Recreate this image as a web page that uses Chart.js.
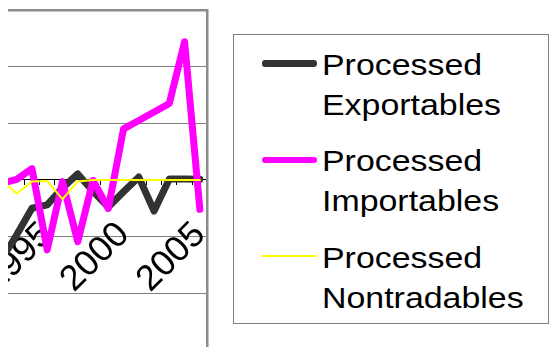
<!DOCTYPE html>
<html><head><meta charset="utf-8">
<script src="https://cdn.jsdelivr.net/npm/chart.js@4.4.1/dist/chart.umd.min.js"></script>
<style>
html,body{margin:0;padding:0;width:550px;height:347px;overflow:hidden;background:#fff;}
#c{position:absolute;left:-40px;top:0;}
#mask{position:absolute;left:0;top:0;width:8px;height:347px;background:#fff;z-index:2;}
#legend{position:absolute;left:233px;top:34px;width:314px;height:288px;border:1px solid #808080;background:#fff;z-index:3;font-family:'Liberation Sans',Arial,sans-serif;font-size:30px;color:#000;}
.entry{position:absolute;left:88px;line-height:40px;transform:scaleX(1.13);transform-origin:0 0;white-space:nowrap;}
.swatch{position:absolute;left:28px;width:55px;}
</style></head><body>
<canvas id="c" width="340" height="400"></canvas>
<div id="mask"></div>
<div id="legend"></div>
<script>
const years = ['1992','1993','1994','1995','1996','1997','1998','1999','2000','2001','2002','2003','2004','2005'];
const tickYears = ['1995','2000','2005'];
const exportables  = [-14.1, -9.7, -5.0, -4.4, -1.4, 1.05, -2.0, -4.8, -2.1, 0.5, -5.5, 0.15, 0.15, 0.1];
const importables  = [-0.6, 0.1, 2.0, -12.35, -0.3, -10.9, -0.1, -5.05, 9.0, 10.5, 12.0, 13.5, 24.4, -5.2];
const nontradables = [0, -2.4, -0.3, -0.2, -3.4, -0.3, 0, 0, 0, 0, 0, 0, 0, 0];
const seriesNames  = [['Processed','Exportables'],['Processed','Importables'],['Processed','Nontradables']];
const seriesColors = ['#333333','#FF00FF','#FFFF00'];
const seriesWidths = [7, 7, 2];
const swatchWidths = [6.5, 6, 2];
const yMin = -30, yMax = 30, yStep = 10;

Chart.defaults.font.family = "'Liberation Sans', Arial, sans-serif";

const seriesData = [exportables, importables, nontradables];
new Chart(document.getElementById('c'), {
  type: 'line',
  data: {
    labels: years,
    datasets: seriesData.map((d, i) => ({
      label: seriesNames[i].join(' '),
      data: d,
      borderColor: seriesColors[i],
      backgroundColor: seriesColors[i],
      borderWidth: seriesWidths[i],
      order: 2 - i
    }))
  },
  options: {
    responsive: false,
    animation: false,
    layout: {padding: {left: 33.8, right: 92.5, top: 10, bottom: 50.2}},
    elements: {
      point: {radius: 0},
      line: {tension: 0, borderJoinStyle: 'round', borderCapStyle: 'round', fill: false}
    },
    plugins: {legend: {display: false}, tooltip: {enabled: false}},
    scales: {
      x: {
        type: 'category',
        position: {y: 0},
        offset: true,
        grid: {display: true, drawOnChartArea: false, drawTicks: true, tickLength: 5, tickColor: '#000', offset: true},
        border: {display: true, color: '#000', width: 1},
        ticks: {
          autoSkip: false, maxRotation: 45, minRotation: 45, padding: 29, color: '#000',
          font: {size: 36},
          callback: function (v) { const l = this.getLabelForValue(v); return tickYears.includes(l) ? l : ''; }
        }
      },
      y: {
        min: yMin, max: yMax,
        ticks: {display: false, stepSize: yStep},
        grid: {
          drawTicks: false,
          color: c => (c.tick && c.tick.value === yMax) ? '#8c8c8c' : '#808080',
          lineWidth: c => (c.tick && c.tick.value === yMax) ? 2.5 : 1
        },
        border: {display: false}
      },
      y2: {
        position: 'right',
        display: true,
        grid: {display: false, drawTicks: false},
        ticks: {display: false},
        border: {display: true, color: '#8c8c8c', width: 2.5}
      }
    }
  }
});

// HTML legend built from the series arrays
const legend = document.getElementById('legend');
seriesNames.forEach((lines, i) => {
  const top = 9.6 + 96.5 * i;
  const e = document.createElement('div');
  e.className = 'entry';
  e.style.top = top + 'px';
  e.innerHTML = lines.join('<br>');
  legend.appendChild(e);
  const s = document.createElement('div');
  s.className = 'swatch';
  const h = swatchWidths[i];
  s.style.height = h + 'px';
  s.style.top = (top + 18.8 - h / 2) + 'px';
  s.style.background = seriesColors[i];
  s.style.borderRadius = (h / 2) + 'px';
  legend.appendChild(s);
});
</script>
</body></html>
